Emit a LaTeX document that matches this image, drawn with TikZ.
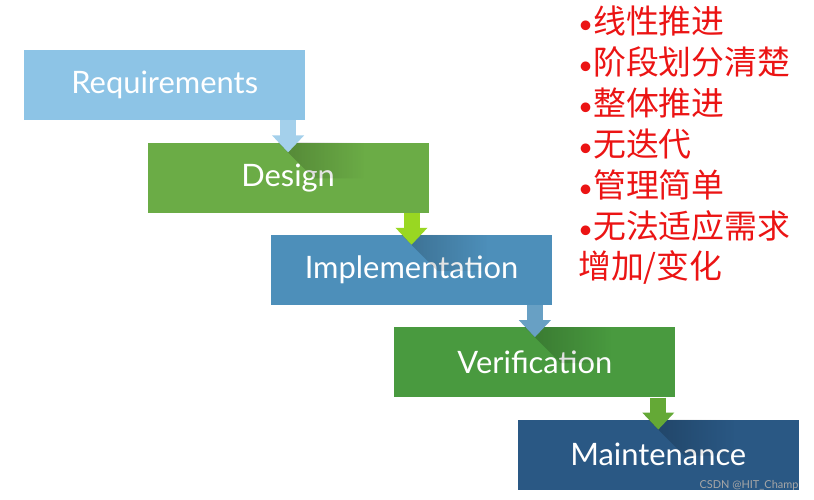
\documentclass[tikz,border=0pt]{standalone}
\usepackage{fontspec}
\setsansfont{Lato}
\newfontfamily\cjk{Noto Sans CJK SC}
\usetikzlibrary{positioning, arrows.meta, fadings}

\definecolor{reqblue}{RGB}{141,196,230}
\definecolor{desgreen}{RGB}{107,172,70}
\definecolor{impblue}{RGB}{77,143,186}
\definecolor{vergreen}{RGB}{73,154,63}
\definecolor{mntblue}{RGB}{42,88,132}
\definecolor{notered}{RGB}{235,20,20}

\newcommand{\bul}{{\sffamily\fontsize{26}{41}\selectfont •}}

\begin{document}
\begin{tikzpicture}[
			node distance=22bp and -158bp,
			stage/.style={rectangle, minimum width=281bp, minimum height=70bp, inner sep=0pt, text=white, font=\sffamily\fontsize{31}{34}\selectfont},
			flow/.style={-{Triangle[width=31bp,length=17bp]}, line width=16bp},
			shade/.style={fill=black, opacity=0.22, path fading=east}
			]
			\useasboundingbox (0,0) rectangle (814bp,-500bp);
			
			% Stages
			\node[stage, fill=reqblue, anchor=north west] (req) at (24bp,-50bp) {Requirements};
			\node[stage, fill=desgreen, below right=of req] (des) {Design};
			\node[stage, fill=impblue, below right=of des] (imp) {Implementation};
			\node[stage, fill=vergreen, below right=of imp] (ver) {Verification};
			\node[stage, fill=mntblue, below right=of ver] (mnt) {Maintenance};
			
			% Shadows below the arrow tips
			\foreach \n in {des, imp, ver, mnt}
			\fill[shade] ([xshift=-10bp]\n.north) -- ([yshift=-10bp]\n.north) -- ++(26bp,-26bp) -- ++(50bp,0) -- ([xshift=76bp]\n.north) -- cycle;
			
			% Connections
			\draw[flow, draw=reqblue!80!white] (des.north |- req.south) -- ([yshift=-10bp]des.north);
			\draw[flow, draw=desgreen!80!green!60!yellow] (imp.north |- des.south) -- ([yshift=-10bp]imp.north);
			\draw[flow, draw=impblue!85!white] (ver.north |- imp.south) -- ([yshift=-10bp]ver.north);
			\draw[flow, draw=vergreen!85!yellow] (mnt.north |- ver.south) -- ([yshift=-10bp]mnt.north);
			
			% Notes
			\node[anchor=north west, align=left, inner sep=0pt, text=notered, font=\cjk\fontsize{33}{41}\selectfont] (notes) at (578bp,-6bp)
				{\bul 线性推进\\\bul 阶段划分清楚\\\bul 整体推进\\\bul 无迭代\\\bul 管理简单\\\bul 无法适应需求\\增加/变化};
			
			% Watermark
			\node[anchor=south east, text=gray!70, font=\sffamily\fontsize{11}{12}\selectfont] (mark) at (802bp,-494bp) {CSDN @HIT\_Champ};
			
		\end{tikzpicture}
\end{document}
